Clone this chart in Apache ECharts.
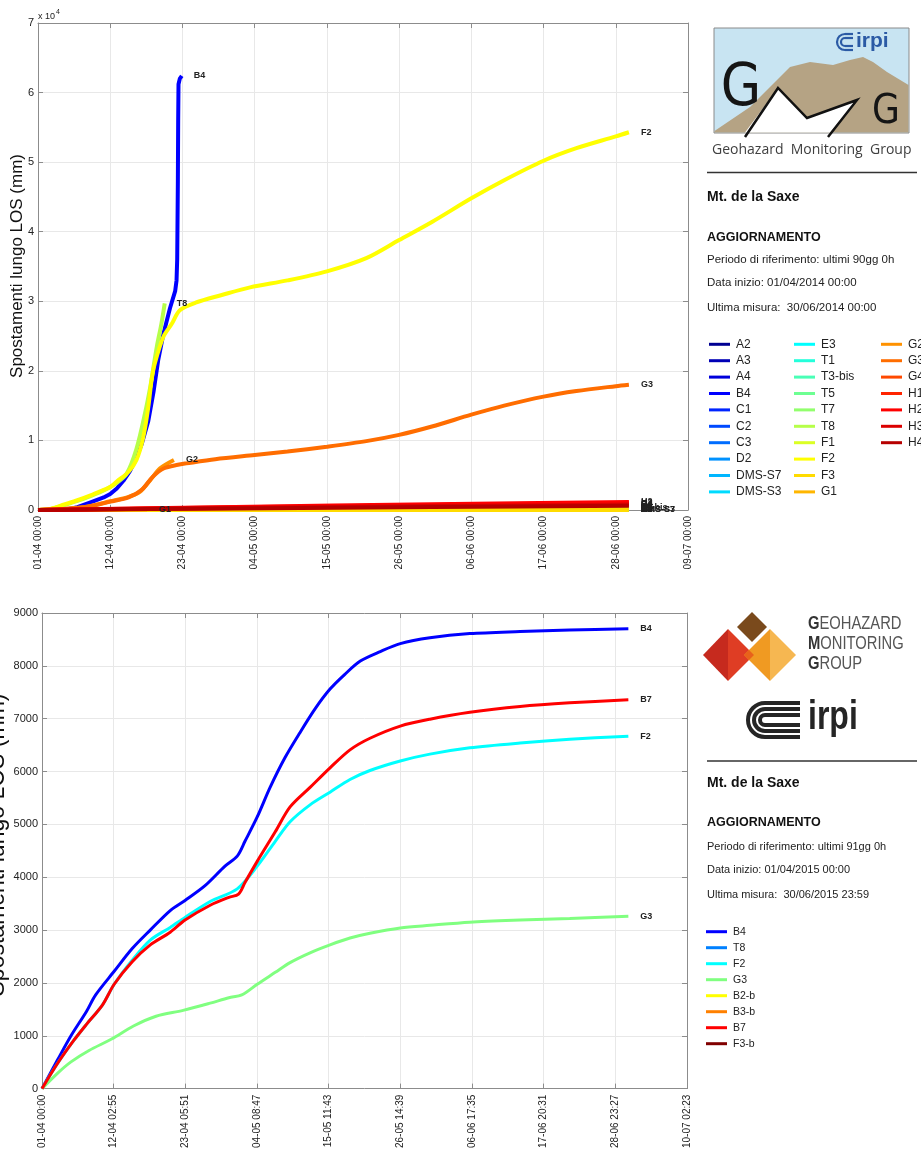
<!DOCTYPE html>
<html>
<head>
<meta charset="utf-8">
<script src="https://cdn.jsdelivr.net/npm/echarts@6/dist/echarts.min.js"></script>
<style>
  html, body { margin: 0; padding: 0; background: #fff; }
  #chart { width: 921px; height: 1151px; }
</style>
</head>
<body>
<div id="chart"></div>
<script>
// ---------------- 2014 campaign: 01/04/2014 -> 30/06/2014 (x in days) ----------------
const TICKS_2014 = ['01-04 00:00', '12-04 00:00', '23-04 00:00', '04-05 00:00', '15-05 00:00',
  '26-05 00:00', '06-06 00:00', '17-06 00:00', '28-06 00:00', '09-07 00:00'];
const Y_TICKS_2014 = ['0', '1', '2', '3', '4', '5', '6', '7'];

const NAMES_2014 = ['A2', 'A3', 'A4', 'B4', 'C1', 'C2', 'C3', 'D2', 'DMS-S7', 'DMS-S3',
  'E3', 'T1', 'T3-bis', 'T5', 'T7', 'T8', 'F1', 'F2', 'F3', 'G1',
  'G2', 'G3', 'G4', 'H1', 'H2', 'H3', 'H4'];
const COLORS_2014 = ['#000092', '#0000b6', '#0000db', '#0000ff', '#0024ff', '#0049ff', '#006dff',
  '#0092ff', '#00b6ff', '#00dbff', '#00ffff', '#24ffdb', '#49ffb6', '#6dff92', '#92ff6d',
  '#b6ff49', '#dbff24', '#ffff00', '#ffdb00', '#ffb600', '#ff9200', '#ff6d00', '#ff4900',
  '#ff2400', '#ff0000', '#db0000', '#b60000'];

// [day, displacement mm]
const A2 = [[0, 0], [30, 40], [60, 80], [90, 110]];
const A3 = [[0, 0], [30, 30], [60, 60], [90, 90]];
const A4 = [[0, 0], [30, 50], [60, 100], [90, 140]];
const B4 = [[0, 0], [4, 0], [6, 400], [8, 1100], [10, 1800], [11, 2300], [12, 3100], [13, 4200],
  [14, 5600], [14.8, 7100], [15.8, 9500], [16.8, 12800], [17.6, 17000], [18.3, 21500],
  [19.1, 25300], [20.1, 29000], [20.9, 31500], [21.1, 33000], [21.2, 36000], [21.3, 47000],
  [21.35, 56000], [21.4, 61200], [21.6, 62000], [21.9, 62400]];
const C1 = [[0, 0], [30, 60], [60, 130], [90, 180]];
const C2 = [[0, 0], [30, 30], [60, 70], [90, 100]];
const C3 = [[0, 0], [30, 70], [60, 130], [90, 170]];
const D2 = [[0, 0], [30, 20], [60, 40], [90, 60]];
const DMS_S7 = [[0, 0], [30, 15], [60, 30], [90, 40]];
const DMS_S3 = [[0, 0], [30, 10], [60, 20], [90, 30]];
const E3 = [[0, 0], [30, 25], [60, 50], [90, 70]];
const T1 = [[0, 0], [30, 90], [60, 170], [90, 240]];
const T3_bis = [[0, 0], [30, 110], [60, 210], [90, 290]];
const T5 = [[0, 0], [30, 70], [60, 140], [90, 200]];
const T7 = [[0, 0], [30, 130], [60, 250], [90, 340]];
const T8 = [[0, 0], [2, 150], [4, 700], [6, 1300], [8, 2000], [10, 2800], [12, 3900], [13.5, 5200],
  [15, 8800], [16.3, 13900], [17.1, 17700], [17.6, 20600], [18.1, 23500], [18.8, 26800], [19.3, 29700]];
const F1 = [[0, 0], [30, 140], [60, 280], [90, 380]];
const F2 = [[0, 0], [2, 200], [4, 800], [6, 1400], [8, 2100], [10, 2900], [11, 3300], [12, 4100],
  [13.8, 5500], [15, 7200], [16, 10300], [16.8, 14800], [17.3, 18700], [17.8, 21100], [19.1, 24900],
  [20.4, 26800], [21.6, 28700], [24, 29800], [28, 30900], [32.3, 32000], [38, 33000], [44, 34300],
  [50, 36200], [55, 38800], [60, 41400], [66, 44800], [71, 47400], [77, 50200], [82, 52000],
  [88, 53700], [90, 54300]];
const F3 = [[0, 0], [30, 5], [60, 10], [90, 15]];
const G1 = [[0, 0], [8, 20], [16.6, 40]];
const G2 = [[0, 0], [4, 150], [7.6, 500], [11, 1250], [13.8, 1900], [15.5, 2600], [17.1, 4300],
  [18.6, 6000], [20.7, 7200]];
const G3 = [[0, 0], [4, 150], [7.6, 480], [11, 1200], [13.8, 1800], [15.8, 2900], [17.5, 4800],
  [19.2, 6000], [21.3, 6500], [22.6, 6700], [27, 7300], [33, 7900], [38, 8400], [44, 9100],
  [50, 9900], [55, 10800], [60, 12000], [66, 13700], [71, 15000], [77, 16300], [82, 17100],
  [88, 17800], [90, 18000]];
const G4 = [[0, 0], [30, 330], [60, 620], [90, 880]];
const H1 = [[0, 0], [30, 380], [60, 720], [90, 1020]];
const H2 = [[0, 0], [30, 430], [60, 820], [90, 1150]];
const H3 = [[0, 0], [30, 290], [60, 560], [90, 790]];
const H4 = [[0, 0], [30, 220], [60, 420], [90, 600]];

const VALUES_2014 = [A2, A3, A4, B4, C1, C2, C3, D2, DMS_S7, DMS_S3, E3, T1, T3_bis, T5, T7,
  T8, F1, F2, F3, G1, G2, G3, G4, H1, H2, H3, H4];

// ---------------- 2015 campaign: 01/04/2015 -> 30/06/2015 (x in days) ----------------
const TICKS_2015 = ['01-04 00:00', '12-04 02:55', '23-04 05:51', '04-05 08:47', '15-05 11:43',
  '26-05 14:39', '06-06 17:35', '17-06 20:31', '28-06 23:27', '10-07 02:23'];

const NAMES_2015 = ['B4', 'T8', 'F2', 'G3', 'B2-b', 'B3-b', 'B7', 'F3-b'];
const COLORS_2015 = ['#0000ff', '#0080ff', '#00ffff', '#80ff80', '#ffff00', '#ff8000', '#ff0000', '#800000'];

const B4_15 = [[0, 0], [2.4, 540], [4.5, 1000], [6.9, 1460], [8.3, 1770], [11.2, 2220], [14, 2650],
  [16.8, 3000], [19.9, 3370], [22.2, 3560], [25.3, 3840], [28.4, 4210], [30.3, 4400], [31.5, 4680],
  [33.4, 5140], [35.4, 5700], [37.7, 6260], [40, 6730], [42.4, 7190], [44.7, 7560], [47, 7840],
  [49.4, 8090], [52.5, 8270], [55.6, 8420], [60.2, 8530], [66.4, 8610], [74.2, 8650], [81.9, 8680],
  [91, 8700]];
const T8_15 = [];
const F2_15 = [[0, 0], [2.4, 475], [4.9, 907], [6.9, 1216], [9.4, 1586], [11.2, 1975], [14, 2430],
  [16.8, 2810], [19.9, 3050], [22.2, 3240], [26.1, 3540], [30.3, 3780], [33.4, 4210], [36.2, 4680],
  [38.5, 5050], [41.6, 5370], [44.7, 5610], [47.8, 5850], [50.9, 6020], [55.6, 6200], [60.2, 6330],
  [66.4, 6450], [74.2, 6540], [81.9, 6610], [91, 6670]];
const G3_15 = [[0, 0], [2.4, 290], [4.5, 506], [7.3, 722], [10.8, 938], [14.2, 1185], [17.7, 1370],
  [21.9, 1480], [26.1, 1617], [29, 1720], [31, 1772], [33.4, 1975], [36.2, 2200], [38.5, 2385],
  [41.6, 2570], [44.7, 2720], [47.8, 2850], [50.9, 2940], [55.6, 3040], [60.2, 3090], [66.4, 3150],
  [74.2, 3190], [81.9, 3220], [91, 3260]];
const B2_b_15 = [];
const B3_b_15 = [];
const B7_15 = [[0, 0], [2.4, 475], [4.9, 907], [6.9, 1216], [9.4, 1586], [11.2, 1975], [14, 2400],
  [16.8, 2720], [19.9, 2960], [22.2, 3190], [26.1, 3470], [29, 3620], [30.5, 3680], [31.5, 3900],
  [33.4, 4300], [36.2, 4860], [38.5, 5330], [41.6, 5700], [44.7, 6070], [47.8, 6410], [50.9, 6630],
  [55.6, 6860], [60.2, 6990], [66.4, 7120], [74.2, 7230], [81.9, 7300], [91, 7360]];
const F3_b_15 = [];

const VALUES_2015 = [B4_15, T8_15, F2_15, G3_15, B2_b_15, B3_b_15, B7_15, F3_b_15];

// ---------------- layout / style ----------------
const FONT = 'Liberation Sans, Arial, Helvetica, sans-serif';
const AXIS_GRAY = '#8c8c8c';
const GRID_GRAY = '#e8e8e8';

// 2015 x axis runs in minutes so the 1.1 x 91 day span splits into whole ticks
const MIN_PER_DAY = 1440;
const X2015_MAX = 144144;
const X2015_STEP = 16016;

function mainXAxis(grid, max, step, ticks) {
  return {
    type: 'value', gridIndex: grid, position: 'bottom', min: 0, max: max, interval: step,
    axisLine: { show: true, onZero: false, lineStyle: { color: AXIS_GRAY, width: 1 } },
    axisTick: { show: true, inside: true, length: 5, lineStyle: { color: AXIS_GRAY } },
    axisLabel: {
      show: true, rotate: 90, margin: 6, fontSize: 10, color: '#222', fontFamily: FONT,
      formatter: (v) => ticks[Math.round(v / step)] || ''
    },
    splitLine: { show: true, lineStyle: { color: GRID_GRAY, width: 1 } }
  };
}
function frameXAxis(grid, max, step) {
  return {
    type: 'value', gridIndex: grid, position: 'top', min: 0, max: max, interval: step,
    axisLine: { show: true, onZero: false, lineStyle: { color: AXIS_GRAY, width: 1 } },
    axisTick: { show: true, inside: true, length: 5, lineStyle: { color: AXIS_GRAY } },
    axisLabel: { show: false }, splitLine: { show: false }
  };
}
function mainYAxis(grid, max, step, fmt) {
  return {
    type: 'value', gridIndex: grid, position: 'left', min: 0, max: max, interval: step,
    axisLine: { show: true, onZero: false, lineStyle: { color: AXIS_GRAY, width: 1 } },
    axisTick: { show: true, inside: true, length: 5, lineStyle: { color: AXIS_GRAY } },
    axisLabel: { show: true, margin: 4, fontSize: 11, color: '#222', fontFamily: FONT, formatter: fmt },
    splitLine: { show: true, lineStyle: { color: GRID_GRAY, width: 1 } }
  };
}
function frameYAxis(grid, max, step) {
  return {
    type: 'value', gridIndex: grid, position: 'right', min: 0, max: max, interval: step,
    axisLine: { show: true, onZero: false, lineStyle: { color: AXIS_GRAY, width: 1 } },
    axisTick: { show: true, inside: true, length: 5, lineStyle: { color: AXIS_GRAY } },
    axisLabel: { show: false }, splitLine: { show: false }
  };
}

function lineSeries(name, color, data, xIdx, yIdx, width, smooth) {
  return {
    type: 'line', name: name, xAxisIndex: xIdx, yAxisIndex: yIdx, data: data,
    showSymbol: false, symbol: 'none', smooth: smooth,
    lineStyle: { color: color, width: width }, itemStyle: { color: color },
    endLabel: {
      show: data.length > 0, formatter: name, distance: 12,
      color: '#222', fontSize: 9, fontWeight: 'bold', fontFamily: FONT
    },
    emphasis: { disabled: true }
  };
}

const series = [];
NAMES_2014.forEach((n, i) => series.push(lineSeries(n, COLORS_2014[i], VALUES_2014[i], 0, 0, 4,
  n === 'B4' ? false : 0.3)));
NAMES_2015.forEach((n, i) => series.push(lineSeries(n, COLORS_2015[i],
  VALUES_2015[i].map(p => [p[0] * MIN_PER_DAY, p[1]]), 2, 2, 3, 0.3)));

// ---------------- side panels ----------------
function txt(x, y, s, size, opts, el) {
  return Object.assign({
    type: 'text', silent: true, x: x, y: y,
    style: Object.assign({
      text: s, x: 0, y: 0, fontSize: size, fontFamily: FONT, fill: '#111',
      align: 'left', verticalAlign: 'middle'
    }, opts || {})
  }, el || {});
}
function hline(x1, x2, y, color, w) {
  return { type: 'line', silent: true, shape: { x1: x1, y1: y, x2: x2, y2: y }, style: { stroke: color, lineWidth: w } };
}
function legendBlock(names, colors, x, y0, step, lineW, size) {
  const out = [];
  names.forEach((n, i) => {
    const y = y0 + i * step;
    out.push(hline(x, x + lineW, y, colors[i], 3));
    out.push(txt(x + lineW + 6, y, n, size, { fill: '#222' }));
  });
  return out;
}
// nested bracket mark of the CNR logo, opening to the right
function cnrMark(left, top, bottom, right, gap, color, w, count) {
  const out = [];
  for (let k = 0; k < count; k++) {
    const t = top + k * gap, b = bottom - k * gap, l = left + k * gap, r = (b - t) / 2;
    const st = { stroke: color, lineWidth: w, fill: null };
    out.push({ type: 'arc', silent: true,
      shape: { cx: l + r, cy: t + r, r: r, startAngle: Math.PI / 2, endAngle: Math.PI * 1.5, clockwise: true },
      style: st });
    out.push({ type: 'line', silent: true, shape: { x1: l + r, y1: t, x2: right, y2: t }, style: st });
    out.push({ type: 'line', silent: true, shape: { x1: l + r, y1: b, x2: right, y2: b }, style: st });
  }
  return out;
}
const RICH_GMG = {
  b: { fontWeight: 'bold', fontSize: 18, fontFamily: FONT, fill: '#333' },
  r: { fontSize: 18, fontFamily: FONT, fill: '#555' }
};

const graphics = [
  // axis titles and exponent
  txt(17, 266, 'Spostamenti lungo LOS (mm)', 17, { align: 'center', fill: '#111' }, { rotation: Math.PI / 2 }),
  txt(-2, 845, 'Spostamenti lungo LOS (mm)', 23, { align: 'center', fill: '#111' }, { rotation: Math.PI / 2 }),
  txt(38, 17, 'x 10', 9, { fill: '#222' }),
  txt(56, 12, '4', 7, { fill: '#222' }),

  // --- upper logo ---
  { type: 'rect', silent: true, shape: { x: 714, y: 28, width: 195, height: 105 },
    style: { fill: '#c8e4f2', stroke: '#8a8a8a', lineWidth: 1 } },
  { type: 'polygon', silent: true, shape: { points: [[714.5, 131], [750, 107], [790, 67], [810, 62],
    [833, 65], [850, 60], [863, 57], [873, 62], [887, 72], [908.5, 85], [908.5, 132.5], [714.5, 132.5]] },
    style: { fill: '#b5a384' } },
  { type: 'polygon', silent: true, shape: { points: [[745, 132.5], [778, 88], [807, 118], [857, 100], [830, 132.5]] },
    style: { fill: '#ffffff' } },
  { type: 'polyline', silent: true, shape: { points: [[745, 137], [778, 88], [807, 118], [857, 100], [828, 137]] },
    style: { stroke: '#111', lineWidth: 2.5, fill: null } },
  txt(741, 90, 'G', 58, { align: 'center', fontFamily: 'DejaVu Sans', fill: '#151515' }, { scaleX: 0.9 }),
  txt(886, 113, 'G', 40, { align: 'center', fontFamily: 'DejaVu Sans', fill: '#151515' }, { scaleX: 0.9 })
].concat(cnrMark(837, 34, 50, 853, 4, '#2b5aa5', 2.2, 2)).concat([
  txt(856, 41, 'irpi', 21, { fontWeight: 'bold', fill: '#2b5aa5' }),
  txt(712, 150, 'Geohazard  Monitoring  Group', 14, { fill: '#404040', fontFamily: 'Open Sans, ' + FONT }),
  hline(707, 917, 172.5, '#333', 1.3),

  txt(707, 197, 'Mt. de la Saxe', 14, { fontWeight: 'bold' }),
  txt(707, 238, 'AGGIORNAMENTO', 12.5, { fontWeight: 'bold' }),
  txt(707, 260, 'Periodo di riferimento: ultimi 90gg 0h', 11.5, { fill: '#222' }),
  txt(707, 283, 'Data inizio: 01/04/2014 00:00', 11.5, { fill: '#222' }),
  txt(707, 308, 'Ultima misura:  30/06/2014 00:00', 11.5, { fill: '#222' })
]).concat(
  legendBlock(NAMES_2014.slice(0, 10), COLORS_2014.slice(0, 10), 709, 344.3, 16.4, 21, 12),
  legendBlock(NAMES_2014.slice(10, 20), COLORS_2014.slice(10, 20), 794, 344.3, 16.4, 21, 12),
  legendBlock(NAMES_2014.slice(20), COLORS_2014.slice(20), 881, 344.3, 16.4, 21, 12)
).concat([
  // --- lower logo ---
  { type: 'polygon', silent: true, shape: { points: [[703, 655], [728, 629], [728, 681]] }, style: { fill: '#c62a1e' } },
  { type: 'polygon', silent: true, shape: { points: [[728, 629], [754, 655], [728, 681]] }, style: { fill: '#df3d24' } },
  { type: 'polygon', silent: true, shape: { points: [[744, 655], [770, 629], [770, 681]] }, style: { fill: '#f09a22' } },
  { type: 'polygon', silent: true, shape: { points: [[770, 629], [796, 655], [770, 681]] }, style: { fill: '#f6b751' } },
  { type: 'polygon', silent: true, shape: { points: [[744, 655], [749, 650], [754, 655], [749, 660]] }, style: { fill: '#e8621b' } },
  { type: 'polygon', silent: true, shape: { points: [[737, 627], [752, 612], [767, 627], [752, 642]] }, style: { fill: '#7a4a1c' } },
  txt(808, 624, '{b|G}{r|EOHAZARD}', 18, { rich: RICH_GMG }, { scaleX: 0.82 }),
  txt(808, 644, '{b|M}{r|ONITORING}', 18, { rich: RICH_GMG }, { scaleX: 0.82 }),
  txt(808, 664, '{b|G}{r|ROUP}', 18, { rich: RICH_GMG }, { scaleX: 0.82 })
]).concat(cnrMark(748, 703, 737, 800, 6, '#252525', 4, 3)).concat([
  txt(808, 718, 'irpi', 40, { fontWeight: 'bold', fill: '#252525' }, { scaleX: 0.8 }),
  hline(707, 917, 761, '#333', 1.3),

  txt(707, 783, 'Mt. de la Saxe', 14, { fontWeight: 'bold' }),
  txt(707, 823, 'AGGIORNAMENTO', 12.5, { fontWeight: 'bold' }),
  txt(707, 847, 'Periodo di riferimento: ultimi 91gg 0h', 11, { fill: '#222' }),
  txt(707, 870, 'Data inizio: 01/04/2015 00:00', 11, { fill: '#222' }),
  txt(707, 895, 'Ultima misura:  30/06/2015 23:59', 11, { fill: '#222' })
]).concat(
  legendBlock(NAMES_2015, COLORS_2015, 706, 931.7, 16, 21, 10.5)
);

const chart = echarts.init(document.getElementById('chart'), null, { renderer: 'canvas' });
chart.setOption({
  animation: false,
  backgroundColor: '#ffffff',
  grid: [
    { left: 38, top: 23, width: 650, height: 487, containLabel: false },
    { left: 42, top: 613, width: 645, height: 483, containLabel: false }
  ],
  xAxis: [
    mainXAxis(0, 99, 11, TICKS_2014),
    frameXAxis(0, 99, 11),
    mainXAxis(1, X2015_MAX, X2015_STEP, TICKS_2015),
    frameXAxis(1, X2015_MAX, X2015_STEP)
  ],
  yAxis: [
    mainYAxis(0, 70000, 10000, (v) => Y_TICKS_2014[Math.round(v / 10000)]),
    frameYAxis(0, 70000, 10000),
    mainYAxis(1, 9000, 1000, (v) => String(v)),
    frameYAxis(1, 9000, 1000)
  ],
  series: series,
  graphic: graphics
});
</script>
</body>
</html>
